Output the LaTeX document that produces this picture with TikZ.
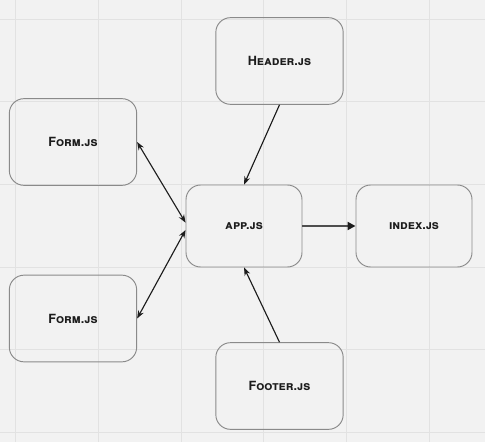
\documentclass[tikz,border=0pt]{standalone}
\usepackage{fontspec}
\setmainfont{TeX Gyre Heros}
\usetikzlibrary{arrows.meta}
\definecolor{bg}{HTML}{F2F2F2}
\definecolor{gridc}{HTML}{E2E2E2}
\definecolor{boxline}{HTML}{8A8A8A}
\definecolor{ink}{HTML}{1C1C1C}
\definecolor{darkline}{HTML}{4E4E4E}
\tikzset{
  file/.style={draw=boxline, line width=0.7pt, rounded corners=11pt, text=ink,
    font=\fontsize{9.5}{9.5}\selectfont\bfseries\scshape, inner sep=0pt},
  wide/.style={file, minimum width=95.5pt, minimum height=65pt},
  narrow/.style={file, minimum width=87pt, minimum height=61.5pt},
  link/.style={draw=ink, line width=0.85pt, -{Stealth[length=6pt,width=4.5pt]}},
  both/.style={link, {Stealth[length=6pt,width=4.5pt]}-{Stealth[length=6pt,width=4.5pt]}},
  main/.style={draw=darkline, line width=1.5pt, -{Triangle[length=6pt,width=6pt,fill=ink,color=ink]}},
  gridline/.style={draw=gridc, line width=0.6pt},
}

\begin{document}
\begin{tikzpicture}[x=0.75pt, y=-0.75pt]
  \fill[bg] (0,0) rectangle (485,442);
  \useasboundingbox (0,0) rectangle (485,442);
  % grid
  \foreach \k in {0,...,5} {
    \draw[gridline] (15.5+82.7*\k,0) -- (15.5+82.7*\k,442);
    \draw[gridline] (0,19+82.7*\k) -- (485,19+82.7*\k);
  }
  % files
  \node[wide] (header) at (279.5,61) {Header.js};
  \node[wide] (form1) at (73,142) {Form.js};
  \node[narrow] (app) at (244,226) {app.js};
  \node[narrow] (index) at (414,226) {index.js};
  \node[wide] (form2) at (73,318.5) {Form.js};
  \node[wide] (footer) at (279.5,386) {Footer.js};
  % imports
  \draw[link] (header.south) -- (app.north);
  \draw[link] (footer.north) -- (app.south);
  \draw[both] (form1.east) -- ([yshift=2.5pt]app.west);
  \draw[both] (form2.east) -- ([yshift=-3pt]app.west);
  \draw[main] (app.east) -- (index.west);
\end{tikzpicture}
\end{document}
